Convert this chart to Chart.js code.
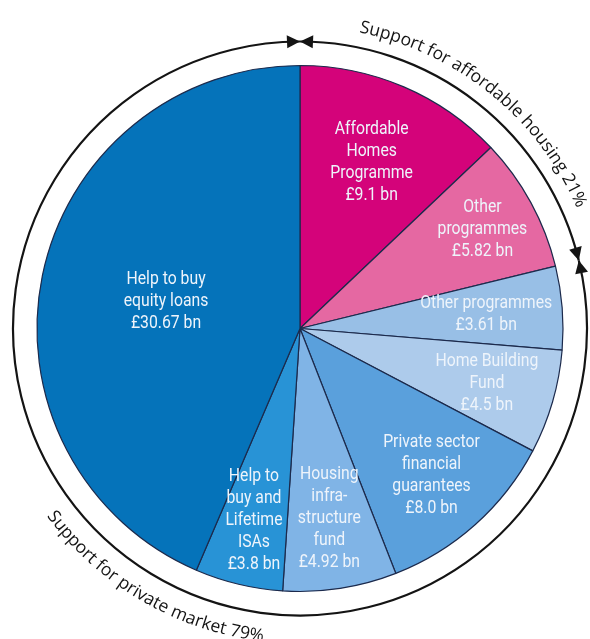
<!DOCTYPE html>
<html>
	<head>
		<title>Government housing support</title>
		<meta http-equiv="Content-Type" content="text/html; charset=UTF-8" />
		<script src="https://cdn.jsdelivr.net/npm/chart.js@4/dist/chart.umd.min.js"></script>
		<style>
			body { margin: 0; background: #fff; }
			canvas { display: block; }
		</style>
		<script>

			// slices, clockwise from the top
			var categories = ['Affordable Homes Programme', 'Other programmes', 'Other programmes', 'Home Building Fund',
				'Private sector financial guarantees', 'Housing infrastructure fund', 'Help to buy and Lifetime ISAs', 'Help to buy equity loans'];
			var values = [9.1, 5.82, 3.61, 4.5, 8.0, 4.92, 3.8, 30.67];
			var valueLabels = ['£9.1 bn', '£5.82 bn', '£3.61 bn', '£4.5 bn', '£8.0 bn', '£4.92 bn', '£3.8 bn', '£30.67 bn'];
			var labelLines = [
				['Affordable', 'Homes', 'Programme'],
				['Other', 'programmes'],
				['Other programmes'],
				['Home Building', 'Fund'],
				['Private sector', 'financial', 'guarantees'],
				['Housing', 'infra-', 'structure', 'fund'],
				['Help to', 'buy and', 'Lifetime', 'ISAs'],
				['Help to buy', 'equity loans']
			];
			var groups = ['affordable', 'affordable', 'private', 'private', 'private', 'private', 'private', 'private'];
			var groupTitles = ['Support for affordable housing 21%', 'Support for private market 79%'];

			var colours = ['#d4037a', '#e568a2', '#98bfe6', '#adcbeb', '#5aa0dc', '#80b4e6', '#2893d6', '#0573ba'];
			// how far out each label sits, as a share of the radius
			var labelRadius = [0.69, 0.79, 0.71, 0.74, 0.75, 0.73, 0.75, 0.52];

			var sliceLabels = {
				id: 'sliceLabels',
				afterDatasetsDraw: function(chart) {
					var ctx = chart.ctx;
					var arcs = chart.getDatasetMeta(0).data;
					ctx.save();
					ctx.fillStyle = '#eef4fb';
					ctx.font = '19px Roboto';
					ctx.textAlign = 'center';
					ctx.textBaseline = 'middle';
					arcs.forEach(function(arc, i) {
						var mid = (arc.startAngle + arc.endAngle) / 2;
						var r = arc.outerRadius * labelRadius[i];
						var x = arc.x + r * Math.cos(mid);
						var y = arc.y + r * Math.sin(mid);
						var lines = labelLines[i].concat([valueLabels[i]]);
						var top = y - (lines.length - 1) * 22 / 2;
						lines.forEach(function(line, j) {
							ctx.save();
							ctx.translate(x, top + j * 22);
							ctx.scale(0.83, 1);
							ctx.fillText(line, 0, 0);
							ctx.restore();
						});
					});
					ctx.restore();
				}
			};

			function arrowHead(ctx, cx, cy, r, a, dir) {
				// tip on the ring at angle a, pointing along the ring (dir 1 = clockwise)
				var len = 13, half = 6.5;
				var b = a - dir * len / r;
				var tx = cx + r * Math.cos(a), ty = cy + r * Math.sin(a);
				var bx = cx + r * Math.cos(b), by = cy + r * Math.sin(b);
				var nx = Math.cos(b), ny = Math.sin(b);
				ctx.beginPath();
				ctx.moveTo(tx, ty);
				ctx.lineTo(bx + nx * half, by + ny * half);
				ctx.lineTo(bx - nx * half, by - ny * half);
				ctx.closePath();
				ctx.fill();
			}

			function arcText(ctx, text, cx, cy, r, centre, outward) {
				var total = ctx.measureText(text).width;
				var acc = 0;
				for (var i = 0; i < text.length; i++) {
					var ch = text[i];
					var w = ctx.measureText(ch).width;
					var a;
					if (outward) {
						a = centre - total / (2 * r) + (acc + w / 2) / r;
					} else {
						a = centre + total / (2 * r) - (acc + w / 2) / r;
					}
					ctx.save();
					ctx.translate(cx + r * Math.cos(a), cy + r * Math.sin(a));
					ctx.rotate(outward ? a + Math.PI / 2 : a - Math.PI / 2);
					ctx.fillText(ch, 0, 0);
					ctx.restore();
					acc += w;
				}
			}

			var groupRing = {
				id: 'groupRing',
				afterDraw: function(chart) {
					var ctx = chart.ctx;
					var arcs = chart.getDatasetMeta(0).data;
					var cx = arcs[0].x, cy = arcs[0].y;
					var R = arcs[0].outerRadius + 24;
					var spans = [];
					var names = [];
					arcs.forEach(function(arc, i) {
						var k = names.indexOf(groups[i]);
						if (k < 0) {
							names.push(groups[i]);
							spans.push([arc.startAngle, arc.endAngle]);
						} else {
							spans[k][1] = arc.endAngle;
						}
					});
					ctx.save();
					ctx.strokeStyle = '#141414';
					ctx.fillStyle = '#141414';
					ctx.lineWidth = 2.2;
					spans.forEach(function(s) {
						ctx.beginPath();
						ctx.arc(cx, cy, R, s[0], s[1]);
						ctx.stroke();
						arrowHead(ctx, cx, cy, R, s[0], -1);
						arrowHead(ctx, cx, cy, R, s[1], 1);
					});
					ctx.font = '17.5px "Open Sans"';
					ctx.textAlign = 'center';
					ctx.textBaseline = 'alphabetic';
					var deg = Math.PI / 180;
					arcText(ctx, groupTitles[0], cx, cy, R + 15, (38.9 - 90) * deg, true);
					arcText(ctx, groupTitles[1], cx, cy, R + 28, (210.1 - 90) * deg, false);
					ctx.restore();
				}
			};

			window.onload = function() {
				var ctx = document.getElementById('myChart').getContext('2d');
				var chart = new Chart(ctx, {
					type: 'pie',
					data: {
						labels: categories,
						datasets: [{
							data: values,
							backgroundColor: colours,
							borderColor: '#1c2a4c',
							borderWidth: 1.2,
							radius: 263
						}]
					},
					options: {
						responsive: false,
						animation: false,
						layout: { padding: { left: 30, right: 20, top: 40, bottom: 22 } },
						plugins: {
							legend: { display: false },
							tooltip: { enabled: false }
						}
					},
					plugins: [sliceLabels, groupRing]
				});
			};

		</script>
	</head>
	<body>
		<canvas id="myChart" width="590" height="639"></canvas>
	</body>
</html>
